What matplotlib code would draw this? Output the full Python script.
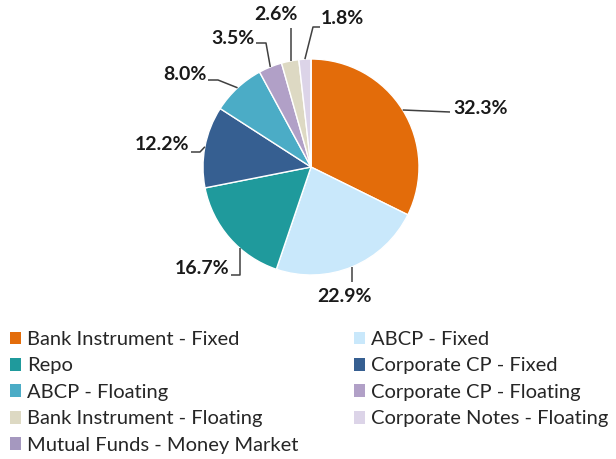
import numpy as np
import matplotlib
matplotlib.use("Agg")
import matplotlib.pyplot as plt
from matplotlib.patches import Patch

categories = ["Bank Instrument - Fixed", "ABCP - Fixed", "Repo", "Corporate CP - Fixed",
              "ABCP - Floating", "Corporate CP - Floating", "Bank Instrument - Floating",
              "Corporate Notes - Floating", "Mutual Funds - Money Market"]
values = [32.3, 22.9, 16.7, 12.2, 8.0, 3.5, 2.6, 1.8, 0.0]
labels = ["32.3%", "22.9%", "16.7%", "12.2%", "8.0%", "3.5%", "2.6%", "1.8%", ""]
colors = ["#E36C0A", "#C9E8FB", "#1F9A9C", "#365F91", "#4BACC6", "#B1A0C7",
          "#DDD9C3", "#DCD4E8", "#A598BF"]

W, H = 616, 459
fig = plt.figure(figsize=(W / 100, H / 100), dpi=100)
ax = fig.add_axes([0, 0, 1, 1])

cx, cy, R = 311, H - 167, 108
wedges, _ = ax.pie(values, colors=colors, startangle=90, counterclock=False,
                   center=(cx, cy), radius=R, frame=True,
                   wedgeprops=dict(edgecolor="white", linewidth=1))
ax.set_xlim(0, W)
ax.set_ylim(0, H)
ax.set_aspect("equal")
ax.axis("off")

# label layout (pixel coords, y from top): text pos, ha, line start, knee, vertical-drop flag
layout = [
    (453, 108, "left", (450, 112), None, False),
    (345, 297, "center", (352, 282), None, True),
    (229, 268, "right", (231, 275), (240, 275), True),
    (189, 144, "right", (191, 152), (200, 152), False),
    (207, 75, "right", (208, 80), (218, 80), False),
    (255, 38, "right", (256, 43), (266, 43), False),
    (276, 14, "center", (291, 28), None, True),
    (321, 18, "left", (320, 27), (313, 27), False),
]

tot = sum(values)
cum = 0
for i, v in enumerate(values):
    mid = cum + v / 2
    cum += v
    if not labels[i]:
        continue
    tx, ty, ha, start, knee, vert = layout[i]
    ang = np.deg2rad(90 - 360 * mid / tot)
    ex, ey = cx + R * np.cos(ang), cy + R * np.sin(ang)
    pts = [(start[0], H - start[1])]
    if knee is not None:
        pts.append((knee[0], H - knee[1]))
    if vert:
        lx = pts[-1][0]
        dy = np.sqrt(max(R ** 2 - (lx - cx) ** 2, 0))
        ey = cy - dy if pts[-1][1] < cy else cy + dy
        ex = lx
    pts.append((ex, ey))
    xs, ys = zip(*pts)
    ax.plot(xs, ys, color="#404040", lw=1.1, solid_capstyle="butt")
    ax.text(tx, H - ty, labels[i], ha=ha, va="center", fontsize=14,
            fontweight="bold", family="Lato", color="#1a1a1a")

order = [0, 2, 4, 6, 8, 1, 3, 5, 7]
handles = [Patch(facecolor=colors[k], edgecolor="none") for k in order]
names = [categories[k] for k in order]
leg = fig.legend(handles, names, ncol=2, loc="upper left",
                 bbox_to_anchor=(10 / W, 1 - 331 / H), frameon=False,
                 prop=dict(family="Lato", size=14.5), handlelength=0.55,
                 handleheight=0.6, handletextpad=0.3, columnspacing=2.75,
                 labelspacing=0.47, borderaxespad=0, borderpad=0)
for t in leg.get_texts():
    t.set_color("#262626")

fig.savefig("out.png", dpi=100)
